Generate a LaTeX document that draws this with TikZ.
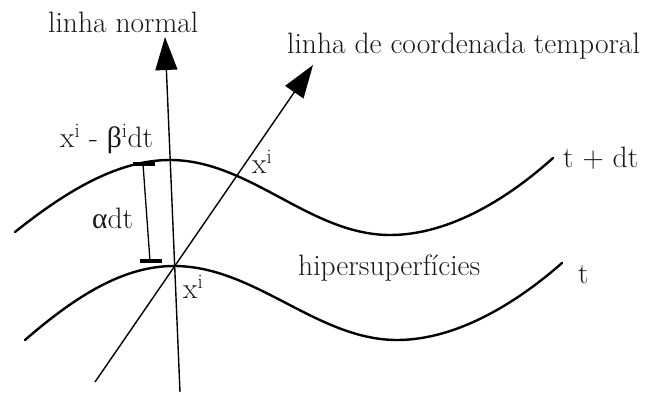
\documentclass[tikz,border=0pt]{standalone}
\usepackage{fontspec}
\newfontfamily\grk{Liberation Serif}
\usetikzlibrary{arrows.meta}
\begin{document}
\begin{tikzpicture}[x=1pt,y=-1pt,
  curve/.style={line width=2.4pt, line cap=round},
  axis/.style={line width=1.4pt, -{Triangle[length=33pt,width=22pt]}},
  thin/.style={line width=1.3pt},
  tick/.style={line width=3.2pt},
  lbl/.style={inner sep=0pt, anchor=base west, font=\fontsize{29.5}{32}\selectfont, text=black!90},
]
\useasboundingbox (0,0) rectangle (667,394);
% coordinates
\coordinate (nb) at (180,392);
\coordinate (nt) at (165,37);
\coordinate (tb) at (95,382);
\coordinate (tt) at (313,65);
\coordinate (ab) at (150,261);
\coordinate (at) at (143,164);
% hypersurfaces
\draw[curve] (15,232) .. controls (70,188) and (120,160) .. (170,160)
  .. controls (250,160) and (310,235) .. (390,235)
  .. controls (452,235) and (512,195) .. (553,158);
\draw[curve] (25,340) .. controls (78,294) and (125,266) .. (174,266)
  .. controls (255,266) and (317,340) .. (397,340)
  .. controls (459,340) and (520,300) .. (562,263);
% axes
\draw[axis] (nb) -- (nt);
\draw[axis] (tb) -- (tt);
% alpha dt bar
\draw[thin] (at) -- (ab);
\draw[tick] (133,164) -- (155,164);
\draw[tick] (140,261) -- (162,261);
% labels
\node[lbl] (ln) at (48,32) {linha normal};
\node[lbl] (lt) at (287,53) {linha de coordenada temporal};
\node[lbl] (lsh) at (60,147) {x$^{\mathrm{i}}$ - {\grk β}$^{\mathrm{i}}$dt};
\node[lbl] (lxu) at (252,173) {x$^{\mathrm{i}}$};
\node[lbl] (lad) at (92,228) {{\grk α}dt};
\node[lbl] (lxl) at (183,298) {x$^{\mathrm{i}}$};
\node[lbl] (lhs) at (298,275) {hipersuperfícies};
\node[lbl] (ltd) at (563,167) {t + dt};
\node[lbl] (lt0) at (578,283) {t};
\end{tikzpicture}
\end{document}
